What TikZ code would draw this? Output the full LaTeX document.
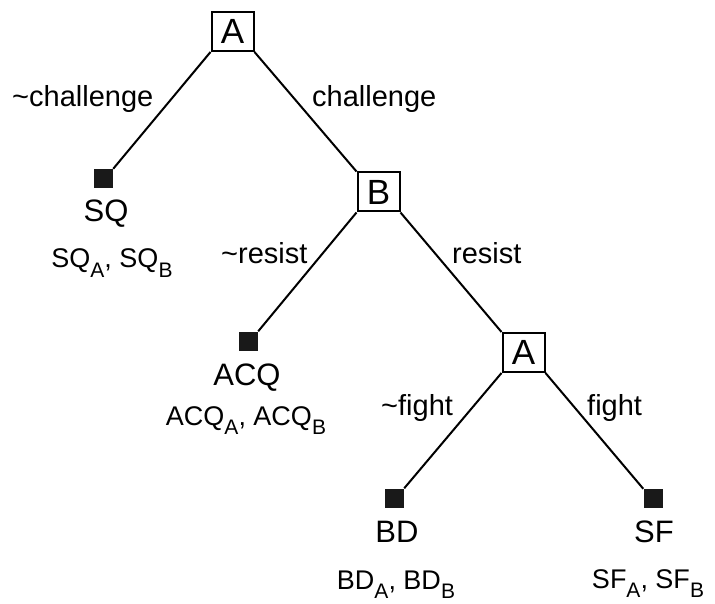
\documentclass[tikz,border=0pt]{standalone}
\usepackage{fontspec}
\setmainfont{Liberation Sans}
\newcommand\sbx[1]{\raisebox{-0.34em}{\fontsize{21}{21}\selectfont #1}}
\begin{document}
\begin{tikzpicture}[x=1pt,y=-1pt,
  dec/.style={draw, line width=2pt, fill=white, minimum width=42pt, minimum height=39pt, inner sep=0pt, font=\fontsize{35}{35}\selectfont},
  term/.style={fill=black!90, minimum size=19pt, inner sep=0pt},
  edge/.style={line width=2pt},
  lbl/.style={font=\fontsize{29}{29}\selectfont, anchor=base west, inner sep=0pt},
  outc/.style={font=\fontsize{31}{31}\selectfont, anchor=base, inner sep=0pt},
  pay/.style={font=\fontsize{27}{27}\selectfont, anchor=base, inner sep=0pt}]
\useasboundingbox (0,0) rectangle (715,604);
\node[dec] (A1) at (232.5,31.5) {A};
\node[dec] (B) at (378.5,192) {B};
\node[dec] (A2) at (523.5,352.5) {A};
\node[term] (SQ) at (103.5,178.5) {};
\node[term] (ACQ) at (248.5,341) {};
\node[term] (BD) at (394.5,498) {};
\node[term] (SF) at (653,498.5) {};
\draw[edge] (A1.south west) -- (SQ.north east);
\draw[edge] (A1.south east) -- (B.north west);
\draw[edge] (B.south west) -- (ACQ.north east);
\draw[edge] (B.south east) -- (A2.north west);
\draw[edge] (A2.south west) -- (BD.north east);
\draw[edge] (A2.south east) -- (SF.north west);
\node[lbl] (l1) at (12,107) {\textasciitilde challenge};
\node[lbl] (l2) at (312,107) {challenge};
\node[lbl] (l3) at (221,263) {\textasciitilde resist};
\node[lbl] (l4) at (452,263) {resist};
\node[lbl] (l5) at (381,415) {\textasciitilde fight};
\node[lbl] (l6) at (587,415) {fight};
\node[outc] (o1) at (106,222) {SQ};
\node[outc] (o2) at (247,385) {ACQ};
\node[outc] (o3) at (397,542) {BD};
\node[outc] (o4) at (654,542) {SF};
\node[pay] (p1) at (112,268) {SQ\sbx{A}, SQ\sbx{B}};
\node[pay] (p2) at (246,425) {ACQ\sbx{A}, ACQ\sbx{B}};
\node[pay] (p3) at (396,589) {BD\sbx{A}, BD\sbx{B}};
\node[pay] (p4) at (648,588) {SF\sbx{A}, SF\sbx{B}};
\end{tikzpicture}
\end{document}
